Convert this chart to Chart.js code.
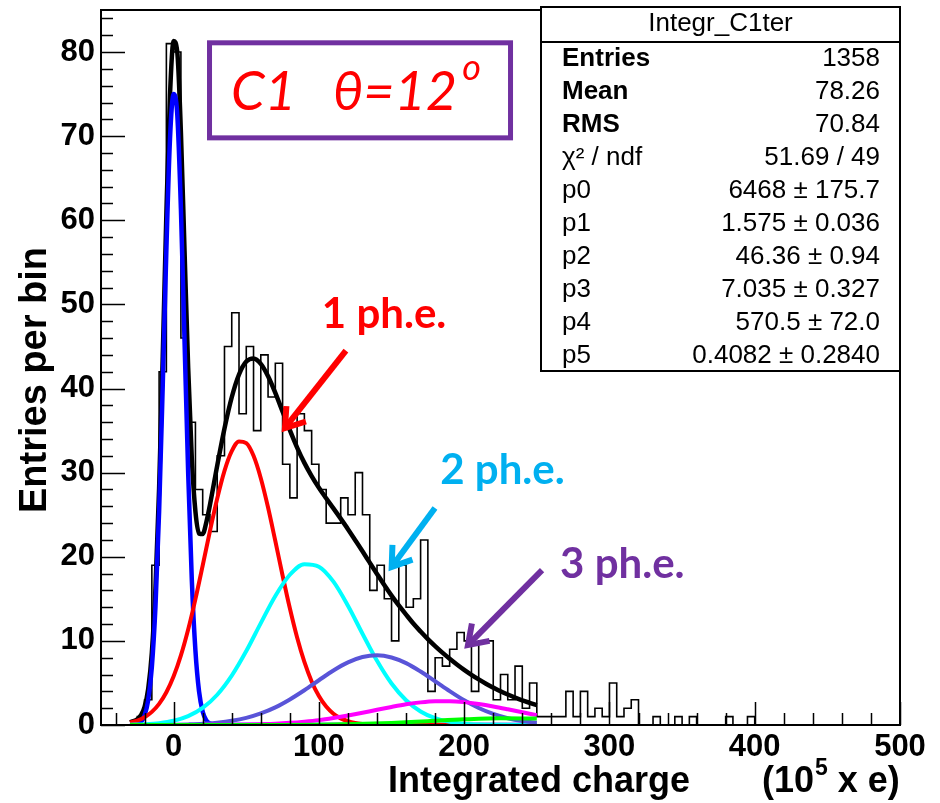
<!DOCTYPE html>
<html lang="en">
<head>
<meta charset="UTF-8">
<title>Integr_C1ter</title>
<script src="https://cdn.jsdelivr.net/npm/chart.js"></script>
<style>
    body {
        margin: 0;
        padding: 0;
        background-color: #ffffff;
    }
    #wrap {
        width: 940px;
        height: 803px;
    }
</style>
</head>
<body>
<div id="wrap"><canvas id="chart1" width="940" height="803"></canvas></div>
<script>
// histogram: 110 bins, width 5, from -50 to 500
var binStart = -50;
var binWidth = 5;
var counts = [
    0, 0, 0, 0, 0,   1, 3, 19, 42, 81,
    80, 46, 36, 28, 25,   23, 32, 45, 49, 37,
    45, 35, 44, 39, 43,   31, 27, 37, 35, 31,
    28, 24, 24, 27, 25,   30, 25, 16, 19, 15,
    10, 19, 14, 15, 22,   4, 8, 7, 9, 11,
    10, 4, 10, 10, 3,   6, 3, 7, 2, 5,
    1, 1, 1, 1, 4,   1, 4, 1, 2, 1,
    5, 1, 2, 3, 0,   0, 1, 0, 0, 1,
    0, 1, 0, 0, 0,   0, 1, 0, 0, 1,
    0, 0, 0, 0, 0,   0, 0, 0, 0, 0,
    0, 0, 0, 0, 0,   0, 0, 0, 0, 0
];

// axis tick labels
var xTickVals = [0, 100, 200, 300, 400, 500];
var yTickVals = [0, 10, 20, 30, 40, 50, 60, 70, 80];

// total fit (black)
var totX = [-30, -25, -22.5, -20, -17.5, -15, -12.5, -10, -7.5, -5, -2.5, 0, 2.5, 5, 7.5, 10, 12.5, 15, 17.5, 20, 22.5, 25,
    30, 35, 40, 45, 50, 55, 60, 65, 70, 75, 80, 85, 90, 95, 100, 105, 110, 115, 120, 125, 130, 135, 140, 145,
    150, 155, 160, 165, 170, 175, 180, 185, 190, 195, 200, 205, 210, 215, 220, 225, 230, 235, 240, 245, 250];
var totY = [0.33, 0.69, 1.16, 2.15, 4.29, 8.59, 16.27, 28.15, 43.82, 60.75, 74.89, 81.3, 80.0, 70.47, 56.39, 42.48, 31.74, 25.39, 22.76, 22.71, 24.1, 26.17,
    30.83, 35.25, 38.96, 41.67, 43.2, 43.58, 42.93, 41.46, 39.48, 37.25, 35.05, 32.98, 31.16, 29.59, 28.2, 26.95, 25.75, 24.53, 23.28, 21.97, 20.65, 19.3, 17.96, 16.64,
    15.38, 14.21, 13.12, 12.06, 11.11, 10.21, 9.38, 8.6, 7.88, 7.2, 6.56, 5.97, 5.42, 4.91, 4.45, 4.01, 3.62, 3.26, 2.93, 2.64, 2.36];

// pedestal (blue)
var pedX = [-30, -25, -22.5, -20, -17.5, -15, -12.5, -10, -7.5, -5, -2.5, 0, 2.5, 5, 7.5, 10, 12.5, 15, 17.5, 20, 22.5, 25, 30, 40, 250];
var pedY = [0.01, 0.11, 0.38, 1.13, 2.97, 6.89, 14.1, 25.4, 40.4, 56.5, 69.7, 75.0, 72.6, 61.4, 45.7, 30.0, 17.3, 8.84, 3.97, 1.57, 0.55, 0.17, 0.01, 0, 0];

// 1 ph.e. (red)
var oneX = [-30, -25, -20, -15, -10, -5, 0, 5, 10, 15, 20, 25, 30, 35, 40, 45, 50, 55, 60, 65, 70, 75, 80, 85, 90, 95,
    100, 105, 110, 115, 120, 125, 130, 140, 250];
var oneY = [0.29, 0.53, 0.93, 1.56, 2.51, 3.89, 5.79, 8.28, 11.36, 14.97, 18.96, 23.06, 26.93, 30.22, 32.56, 33.71, 33.51, 32.0, 29.34, 25.85, 21.87, 17.77, 13.87, 10.40, 7.49, 5.18,
    3.44, 2.19, 1.34, 0.79, 0.45, 0.24, 0.13, 0.03, 0];

// 2 ph.e. (cyan)
var twoX = [-30, -20, -10, 0, 10, 20, 30, 40, 50, 60, 70, 80, 90, 100, 110, 120, 130, 140, 150, 160, 170, 180, 190, 200, 210, 220, 250];
var twoY = [0.03, 0.09, 0.22, 0.50, 1.05, 2.03, 3.60, 5.87, 8.79, 12.11, 15.34, 17.86, 19.12, 18.82, 17.04, 14.18, 10.85, 7.63, 4.93, 2.94, 1.61, 0.81, 0.37, 0.16, 0.06, 0.02, 0];

// 3 ph.e. (slate blue)
var threeX = [-30, -20, -10, 0, 10, 20, 30, 40, 50, 60, 70, 80, 90, 100, 110, 120, 130, 140, 150, 160, 170, 180, 190, 200, 210, 220, 230, 240, 250];
var threeY = [0, 0.01, 0.01, 0.03, 0.07, 0.14, 0.28, 0.50, 0.85, 1.38, 2.10, 3.04, 4.13, 5.32, 6.48, 7.44, 8.08, 8.29, 8.03, 7.36, 6.36, 5.20, 4.02, 2.93, 2.02, 1.32, 0.81, 0.47, 0.26];

// 4 ph.e. (magenta)
var fourX = [-30, -20, -10, 0, 10, 20, 30, 40, 50, 60, 70, 80, 90, 100, 110, 120, 130, 140, 150, 160, 170, 180, 190, 200, 210, 220, 230, 240, 250];
var fourY = [0, 0, 0, 0, 0.004, 0.01, 0.02, 0.03, 0.05, 0.10, 0.16, 0.26, 0.40, 0.58, 0.83, 1.12, 1.45, 1.81, 2.15, 2.46, 2.69, 2.82, 2.83, 2.72, 2.50, 2.21, 1.87, 1.51, 1.17];

// 5 ph.e. (green)
var fiveX = [-30, 50, 75, 100, 125, 150, 175, 200, 225, 250];
var fiveY = [0, 0.003, 0.011, 0.04, 0.11, 0.25, 0.46, 0.67, 0.79, 0.76];

// stats box
var statTitle = 'Integr_C1ter';
var statNames = ['Entries', 'Mean', 'RMS', '\u03c7\u00b2 / ndf', 'p0', 'p1', 'p2', 'p3', 'p4', 'p5'];
var statValues = ['1358', '78.26', '70.84', '51.69 / 49', '6468 \u00b1 175.7', '1.575 \u00b1 0.036',
    '46.36 \u00b1 0.94', '7.035 \u00b1 0.327', '570.5 \u00b1 72.0', '0.4082 \u00b1 0.2840'];

// annotations, in data units
var notes = [
    { text: '1 ph.e.', color: '#ff0000', x: 102, y: 47.2, tail: [118.6, 44.5], tip: [76.6, 35.3] },
    { text: '2 ph.e.', color: '#00b0f0', x: 183.5, y: 28.6, tail: [179.9, 25.8], tip: [150.1, 18.8] },
    { text: '3 ph.e.', color: '#7030a0', x: 266, y: 17.5, tail: [253.6, 18.4], tip: [202.6, 9.5] }
];

var yMax = 85;
var xMin = -50, xMax = 500;
var labelFont = "'Liberation Sans', Arial, sans-serif";

function pts(xs, ys) {
    return xs.map(function (x, i) { return { x: x, y: ys[i] }; });
}

var histPts = counts.map(function (c, i) { return { x: binStart + i * binWidth, y: c }; });
histPts.push({ x: binStart + counts.length * binWidth, y: counts[counts.length - 1] });

function curve(label, xs, ys, color, width, order) {
    return {
        label: label,
        data: pts(xs, ys),
        borderColor: color,
        borderWidth: width,
        cubicInterpolationMode: 'monotone',
        order: order
    };
}

function arrow(ctx, x1, y1, x2, y2, color) {
    var ang = Math.atan2(y2 - y1, x2 - x1);
    var hl = 22, ha = 0.6;
    ctx.save();
    ctx.strokeStyle = color;
    ctx.lineWidth = 6;
    ctx.lineCap = 'butt';
    ctx.lineJoin = 'miter';
    ctx.beginPath();
    ctx.moveTo(x1, y1);
    ctx.lineTo(x2 - 3 * Math.cos(ang), y2 - 3 * Math.sin(ang));
    ctx.stroke();
    ctx.beginPath();
    ctx.moveTo(x2 - hl * Math.cos(ang - ha), y2 - hl * Math.sin(ang - ha));
    ctx.lineTo(x2, y2);
    ctx.lineTo(x2 - hl * Math.cos(ang + ha), y2 - hl * Math.sin(ang + ha));
    ctx.stroke();
    ctx.restore();
}

var rootFrame = {
    id: 'rootFrame',
    afterDatasetsDraw: function (chart) {
        var ctx = chart.ctx, a = chart.chartArea;
        var sx = chart.scales.x, sy = chart.scales.y;
        ctx.save();
        ctx.strokeStyle = '#000';
        ctx.lineWidth = 1.5;
        ctx.beginPath();
        for (var v = 0; v < yMax; v += 2) {
            var yy = Math.round(sy.getPixelForValue(v)) + 0.5;
            ctx.moveTo(a.left, yy);
            ctx.lineTo(a.left + (v % 10 === 0 ? 24 : 12), yy);
        }
        for (var u = -40; u <= xMax; u += 20) {
            var xx = Math.round(sx.getPixelForValue(u)) + 0.5;
            ctx.moveTo(xx, a.bottom);
            ctx.lineTo(xx, a.bottom - (u % 100 === 0 ? 23 : 12));
        }
        ctx.stroke();
        ctx.lineWidth = 2;
        ctx.strokeRect(a.left, a.top, a.right - a.left, a.bottom - a.top);
        ctx.restore();
    },
    afterDraw: function (chart) {
        var ctx = chart.ctx, a = chart.chartArea;
        var sx = chart.scales.x, sy = chart.scales.y;
        ctx.save();

        // stats box
        var bx0 = a.right - 359, by0 = a.top - 3, bx1 = a.right, by1 = 371;
        ctx.fillStyle = '#fff';
        ctx.fillRect(bx0, by0, bx1 - bx0, by1 - by0);
        ctx.strokeStyle = '#000';
        ctx.lineWidth = 2;
        ctx.strokeRect(bx0, by0, bx1 - bx0, by1 - by0);
        ctx.beginPath();
        ctx.moveTo(bx0, by0 + 35);
        ctx.lineTo(bx1, by0 + 35);
        ctx.stroke();
        ctx.fillStyle = '#000';
        ctx.textBaseline = 'middle';
        ctx.textAlign = 'center';
        ctx.font = '26px ' + labelFont;
        ctx.fillText(statTitle, (bx0 + bx1) / 2, by0 + 17);
        for (var i = 0; i < statNames.length; i++) {
            var ry = by0 + 52 + i * 33;
            ctx.textAlign = 'left';
            ctx.font = (i < 3 ? 'bold ' : '') + '26px ' + labelFont;
            ctx.fillText(statNames[i], bx0 + 21, ry);
            ctx.textAlign = 'right';
            ctx.font = '26px ' + labelFont;
            ctx.fillText(statValues[i], bx1 - 20, ry);
        }

        // C1 theta box
        ctx.strokeStyle = '#7030a0';
        ctx.lineWidth = 5;
        var cx0 = sx.getPixelForValue(24.7), cx1 = sx.getPixelForValue(231.9);
        var cy0 = sy.getPixelForValue(81.1), cy1 = sy.getPixelForValue(69.8);
        ctx.strokeRect(cx0, cy0, cx1 - cx0, cy1 - cy0);
        ctx.fillStyle = '#ff0000';
        ctx.textAlign = 'left';
        ctx.textBaseline = 'alphabetic';
        ctx.font = 'italic 54px Lato, "Open Sans", sans-serif';
        var base = sy.getPixelForValue(73.1);
        ctx.fillText('C1', sx.getPixelForValue(39.5), base);
        var tx = sx.getPixelForValue(109.7);
        ctx.fillText('\u03b8=12', tx, base);
        var tw = ctx.measureText('\u03b8=12').width;
        ctx.font = 'italic 36px Lato, "Open Sans", sans-serif';
        ctx.fillText('o', tx + tw + 5, base - 30);

        // ph.e. labels and arrows
        ctx.font = 'bold 42px Lato, "Open Sans", sans-serif';
        notes.forEach(function (n) {
            ctx.fillStyle = n.color;
            ctx.fillText(n.text, sx.getPixelForValue(n.x), sy.getPixelForValue(n.y));
            arrow(ctx, sx.getPixelForValue(n.tail[0]), sy.getPixelForValue(n.tail[1]),
                sx.getPixelForValue(n.tip[0]), sy.getPixelForValue(n.tip[1]), n.color);
        });

        // axis titles
        ctx.fillStyle = '#000';
        ctx.font = 'bold 36px ' + labelFont;
        ctx.textAlign = 'right';
        ctx.fillText('Integrated charge', a.right - 210, 792);
        ctx.textAlign = 'left';
        var ux = a.right - 138;
        ctx.fillText('(10', ux, 792);
        ux += ctx.measureText('(10').width + 1;
        ctx.font = 'bold 23px ' + labelFont;
        ctx.fillText('5', ux, 775);
        ux += ctx.measureText('5').width;
        ctx.font = 'bold 36px ' + labelFont;
        ctx.fillText(' x e)', ux, 792);

        ctx.font = 'bold 38px ' + labelFont;
        ctx.translate(36, 380);
        ctx.rotate(-Math.PI / 2);
        ctx.textAlign = 'center';
        ctx.textBaseline = 'middle';
        ctx.fillText('Entries per bin', 0, 0);
        ctx.restore();
    }
};

var ctx1 = document.getElementById('chart1').getContext('2d');
var chart1 = new Chart(ctx1, {
    type: 'line',
    data: {
        datasets: [
            { label: 'Integr_C1ter', data: histPts, stepped: 'before', borderColor: '#000000', borderWidth: 1.6, order: 9 },
            curve('total', totX, totY, '#000000', 4.5, 8),
            curve('pedestal', pedX, pedY, '#0000ff', 4.5, 7),
            curve('1 ph.e.', oneX, oneY, '#ff0000', 4, 6),
            curve('2 ph.e.', twoX, twoY, '#00ffff', 4, 5),
            curve('3 ph.e.', threeX, threeY, '#5954d8', 4, 4),
            curve('4 ph.e.', fourX, fourY, '#ff00ff', 4, 3),
            curve('5 ph.e.', fiveX, fiveY, '#00ff00', 4, 2)
        ]
    },
    options: {
        responsive: false,
        animation: false,
        layout: { padding: { top: 10, right: 40, left: 0, bottom: 0 } },
        elements: { point: { radius: 0 }, line: { fill: false } },
        plugins: { legend: { display: false }, tooltip: { enabled: false } },
        scales: {
            x: {
                type: 'linear',
                min: xMin,
                max: xMax,
                grid: { display: false, drawTicks: false },
                border: { display: false },
                ticks: {
                    padding: 4,
                    color: '#000',
                    maxRotation: 0,
                    autoSkip: false,
                    font: { family: labelFont, weight: 'bold', size: 31 }
                },
                afterBuildTicks: function (s) {
                    s.ticks = xTickVals.map(function (v) { return { value: v }; });
                },
                afterFit: function (s) {
                    s.height = 78;
                    s.paddingLeft = 0;
                    s.paddingRight = 0;
                }
            },
            y: {
                min: 0,
                max: yMax,
                grid: { display: false, drawTicks: false },
                border: { display: false },
                ticks: {
                    padding: 6,
                    color: '#000',
                    font: { family: labelFont, weight: 'bold', size: 31 }
                },
                afterBuildTicks: function (s) {
                    s.ticks = yTickVals.map(function (v) { return { value: v }; });
                },
                afterFit: function (s) {
                    s.width = 101;
                    s.paddingTop = 0;
                    s.paddingBottom = 0;
                }
            }
        }
    },
    plugins: [rootFrame]
});
</script>
</body>
</html>
